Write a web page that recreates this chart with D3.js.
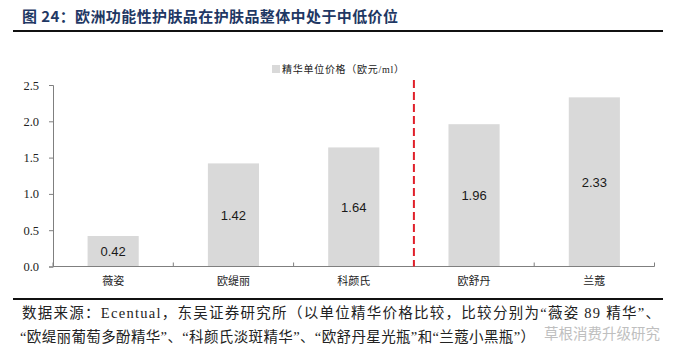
<!DOCTYPE html>
<html>
<head>
  <meta charset="utf-8">
  <title>欧洲功能性护肤品价格</title>
  <style>
    html, body {
      margin: 0;
      padding: 0;
      background: #fff;
      overflow: hidden;
    }
    .title {
      font-family: "Noto Sans CJK SC", sans-serif;
      font-weight: bold;
      font-size: 15px;
      fill: #1f3864;
    }
    .serif {
      font-family: "Liberation Serif", "Noto Sans CJK SC", serif;
      fill: #222;
    }
    .bar-label {
      font-family: "Liberation Sans", Arial, sans-serif;
      font-size: 13px;
      fill: #1a1a1a;
      text-anchor: middle;
    }
  </style>
  <script src="https://d3js.org/d3.v7.min.js"></script>
</head>
<body>
  <div id="chart"></div>
  <script>
    // data
    const categories = ["薇姿", "欧缇丽", "科颜氏", "欧舒丹", "兰蔻"];
    const prices = [0.42, 1.42, 1.64, 1.96, 2.33];
    const yTicks = [0, 0.5, 1.0, 1.5, 2.0, 2.5];
    const legendLabel = "精华单位价格（欧元/ml）";
    const splitAfter = "科颜氏"; // red dashed divider sits after this category

    const width = 676, height = 354;
    const plot = { left: 53, right: 654.5, top: 85, bottom: 266.5 };

    const svg = d3.select("#chart")
      .append("svg")
      .attr("width", width)
      .attr("height", height);

    // title + rules
    svg.append("text")
      .attr("class", "title")
      .attr("x", 22)
      .attr("y", 22)
      .attr("textLength", 376)
      .attr("lengthAdjust", "spacing")
      .text("图 24：欧洲功能性护肤品在护肤品整体中处于中低价位");

    svg.append("line")
      .attr("x1", 13).attr("x2", 663)
      .attr("y1", 31).attr("y2", 31)
      .attr("stroke", "#111").attr("stroke-width", 2);

    svg.append("line")
      .attr("x1", 13).attr("x2", 663)
      .attr("y1", 299).attr("y2", 299)
      .attr("stroke", "#111").attr("stroke-width", 2);

    // scales
    const x = d3.scaleBand()
      .domain(categories)
      .range([plot.left, plot.right])
      .paddingInner(0.575)
      .paddingOuter(0.2875);

    const y = d3.scaleLinear()
      .domain([0, 2.5])
      .range([plot.bottom, plot.top]);

    // bars
    const data = categories.map((c, i) => ({ cat: c, value: prices[i] }));

    svg.append("g")
      .selectAll("rect")
      .data(data)
      .enter()
      .append("rect")
      .attr("x", d => x(d.cat))
      .attr("y", d => y(d.value))
      .attr("width", x.bandwidth())
      .attr("height", d => y(0) - y(d.value))
      .attr("fill", "#d9d9d9");

    svg.append("g")
      .selectAll("text")
      .data(data)
      .enter()
      .append("text")
      .attr("class", "bar-label")
      .attr("x", d => x(d.cat) + x.bandwidth() / 2)
      .attr("y", d => (y(d.value) + y(0)) / 2)
      .attr("dy", "0.36em")
      .text(d => d.value.toFixed(2));

    // y axis
    const yAxis = svg.append("g")
      .attr("transform", `translate(${plot.left},0)`)
      .call(d3.axisLeft(y).tickValues(yTicks).tickFormat(d3.format(".1f")).tickSize(4).tickPadding(10));
    yAxis.select(".domain").attr("stroke", "#7f7f7f");
    yAxis.selectAll(".tick line").attr("stroke", "#7f7f7f");
    yAxis.selectAll(".tick text")
      .attr("class", "serif")
      .style("font-size", "12.5px")
      .attr("fill", "#222");

    // x axis: band boundary ticks pointing up into the plot
    const step = x.step();
    const boundaries = d3.range(categories.length + 1).map(i => plot.left + i * step);
    const xAxisG = svg.append("g");
    xAxisG.append("line")
      .attr("x1", plot.left).attr("x2", plot.right)
      .attr("y1", plot.bottom).attr("y2", plot.bottom)
      .attr("stroke", "#7f7f7f");
    xAxisG.selectAll(".xtick")
      .data(boundaries)
      .enter()
      .append("line")
      .attr("x1", d => d).attr("x2", d => d)
      .attr("y1", plot.bottom).attr("y2", plot.bottom - 4)
      .attr("stroke", "#7f7f7f");
    xAxisG.selectAll(".xlabel")
      .data(categories)
      .enter()
      .append("text")
      .attr("class", "serif")
      .attr("x", d => x(d) + x.bandwidth() / 2)
      .attr("y", 285)
      .attr("text-anchor", "middle")
      .style("font-size", "11px")
      .text(d => d);

    // red dashed divider
    const splitX = x(splitAfter) + x.bandwidth() + (step - x.bandwidth()) / 2;
    svg.append("line")
      .attr("x1", splitX).attr("x2", splitX)
      .attr("y1", 80).attr("y2", plot.bottom)
      .attr("stroke", "#e0202a")
      .attr("stroke-width", 2)
      .attr("stroke-dasharray", "8,4");

    // legend
    svg.append("rect")
      .attr("x", 272).attr("y", 65)
      .attr("width", 8).attr("height", 8)
      .attr("fill", "#d9d9d9");
    svg.append("text")
      .attr("class", "serif")
      .attr("x", 282).attr("y", 73)
      .style("font-size", "10px")
      .attr("textLength", 122)
      .attr("lengthAdjust", "spacing")
      .text(legendLabel);

    // source note
    svg.append("text")
      .attr("class", "serif")
      .attr("x", 22).attr("y", 318)
      .style("font-size", "14.5px")
      .attr("textLength", 638)
      .attr("lengthAdjust", "spacing")
      .text("数据来源：Ecentual，东吴证券研究所（以单位精华价格比较，比较分别为“薇姿 89 精华”、");
    svg.append("text")
      .attr("class", "serif")
      .attr("x", 20).attr("y", 342)
      .style("font-size", "14.5px")
      .attr("textLength", 515)
      .attr("lengthAdjust", "spacing")
      .text("“欧缇丽葡萄多酚精华”、“科颜氏淡斑精华”、“欧舒丹星光瓶”和“兰蔻小黑瓶”）");

    // watermark
    svg.append("text")
      .attr("x", 544).attr("y", 339)
      .style("font-family", "Noto Sans CJK SC, sans-serif")
      .style("font-size", "14.5px")
      .attr("fill", "#b5b5b5")
      .attr("opacity", 0.85)
      .text("草根消费升级研究");
  </script>
</body>
</html>
